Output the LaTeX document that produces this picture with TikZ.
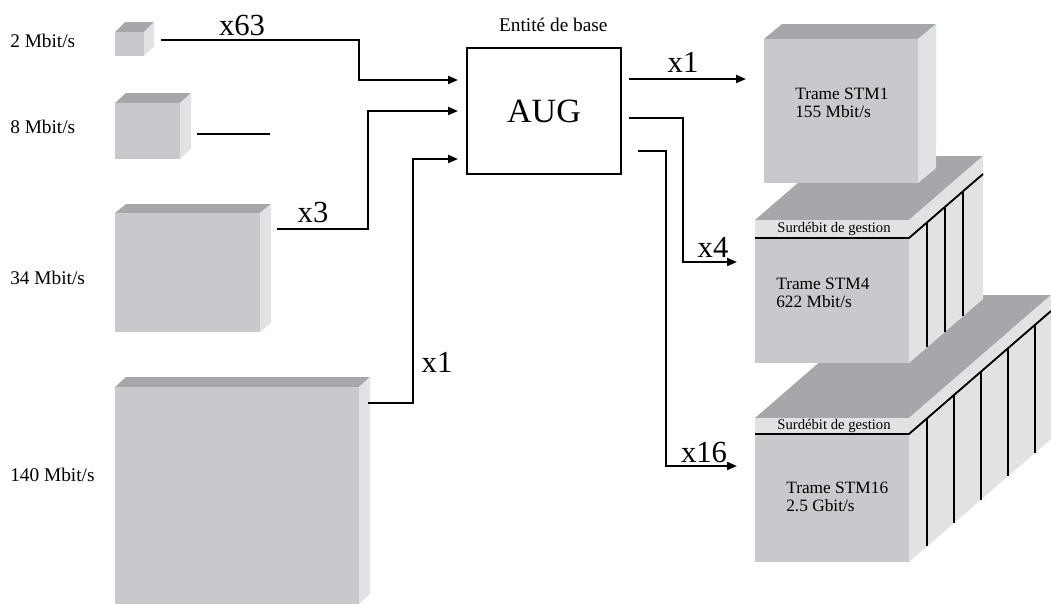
\documentclass[tikz,border=0pt]{standalone}
\usepackage{fontspec}
\setmainfont{Liberation Serif}
\usepackage{xcolor}
\usetikzlibrary{arrows.meta, positioning}

\definecolor{frontgray}{RGB}{200,201,204}
\definecolor{topgray}{RGB}{166,167,170}
\definecolor{sidegray}{RGB}{225,226,228}

\begin{document}
\begin{tikzpicture}[
    x=0.75pt, y=-0.75pt,
    >={Triangle[length=7.5pt, width=6pt]},
    frontface/.style={fill=frontgray},
    topface/.style={fill=topgray},
    sideface/.style={fill=sidegray},
    ratelabel/.style={anchor=base west, inner sep=0pt, font=\fontsize{14.5}{16}\selectfont},
    mult/.style={anchor=base, inner sep=0pt, font=\fontsize{23}{26}\selectfont},
    frametext/.style={anchor=west, align=left, inner sep=0pt, font=\fontsize{13}{13.5}\selectfont},
    overhead/.style={inner sep=0pt, font=\fontsize{11}{12}\selectfont},
    basetitle/.style={inner sep=0pt, font=\fontsize{14.5}{16}\selectfont},
    augbox/.style={draw, line width=1.4pt, minimum width=115.5pt, minimum height=94.5pt, font=\fontsize{25.5}{28}\selectfont},
    link/.style={->, line width=1.5pt},
    plainlink/.style={line width=1.5pt},
    panel/.style={line width=1.4pt}
]

\useasboundingbox (0,0) rectangle (1051,604);

% --- Tributary cubes ---
\fill[topface]   (115,32) -- ++(10,-10) -- ++(29,0) -- ++(-10,10) -- cycle;
\fill[sideface]  (144,32) -- ++(10,-10) -- ++(0,24) -- ++(-10,10) -- cycle;
\fill[frontface] (115,32) rectangle (144,56);

\fill[topface]   (115,103) -- ++(11,-10) -- ++(65,0) -- ++(-11,10) -- cycle;
\fill[sideface]  (180,103) -- ++(11,-10) -- ++(0,56) -- ++(-11,10) -- cycle;
\fill[frontface] (115,103) rectangle (180,159);

\fill[topface]   (115,213) -- ++(11,-9) -- ++(145,0) -- ++(-11,9) -- cycle;
\fill[sideface]  (260,213) -- ++(11,-9) -- ++(0,119) -- ++(-11,9) -- cycle;
\fill[frontface] (115,213) rectangle (260,332);

\fill[topface]   (115,387) -- ++(11,-10) -- ++(244,0) -- ++(-11,10) -- cycle;
\fill[sideface]  (359,387) -- ++(11,-10) -- ++(0,217) -- ++(-11,10) -- cycle;
\fill[frontface] (115,387) rectangle (359,604);

\node[ratelabel] (r2)   at (10,47)  {2 Mbit/s};
\node[ratelabel] (r8)   at (10,133) {8 Mbit/s};
\node[ratelabel] (r34)  at (10,284) {34 Mbit/s};
\node[ratelabel] (r140) at (10,481) {140 Mbit/s};

% --- Base entity ---
\node[augbox] (aug) at (544,111) {AUG};
\node[basetitle, above=11pt of aug, xshift=7pt] (title) {Entité de base};

% --- Inputs to AUG ---
\coordinate (o2)   at (161,40);
\coordinate (o8a)  at (197,134);
\coordinate (o8b)  at (270,134);
\coordinate (o34)  at (277,229);
\coordinate (o140) at (368,403);
\coordinate (i1) at (458,80);
\coordinate (i2) at (458,111);
\coordinate (i3) at (458,159);

\draw[link] (o2) -- ++(198,0) |- (i1);
\draw[plainlink] (o8a) -- (o8b);
\draw[link] (o34) -- ++(91,0) |- (i2);
\draw[link] (o140) -- ++(45,0) |- (i3);

\node[mult] (m63) at (242,35)  {x63};
\node[mult] (m3)  at (313,222) {x3};
\node[mult] (m1)  at (437,372) {x1};

% --- STM16 frame ---
\fill[topface]   (755,418) -- (897,295) -- (1051,295) -- (909,418) -- cycle;
\fill[sideface]  (909,418) -- (1051,295) -- (1051,439) -- (909,562) -- cycle;
\fill[frontface] (755,434) rectangle (909,562);
\fill[sideface]  (755,418) rectangle (909,434);
\draw[panel] (755,434) -- (909,434) -- (1051,311);
\foreach \u in {18,45,72,99,126}
    \draw[panel] (909,434) ++({\u},{-0.866*\u}) -- ++(0,128);

% --- STM4 frame ---
\fill[topface]   (755,220) -- (829,156) -- (983,156) -- (909,220) -- cycle;
\fill[sideface]  (909,220) -- (983,156) -- (983,299) -- (909,363) -- cycle;
\fill[frontface] (755,238) rectangle (909,363);
\fill[sideface]  (755,220) rectangle (909,238);
\draw[panel] (755,238) -- (909,238) -- (983,174);
\foreach \u in {18,36,54}
    \draw[panel] (909,238) ++({\u},{-0.865*\u}) -- ++(0,125);

% --- STM1 frame ---
\fill[topface]   (764,39) -- (782,24) -- (936,24) -- (918,39) -- cycle;
\fill[sideface]  (918,39) -- (936,24) -- (936,168) -- (918,183) -- cycle;
\fill[frontface] (764,39) rectangle (918,183);

\node[frametext] (stm1)  at (795,103) {Trame STM1\\155 Mbit/s};
\node[frametext] (stm4)  at (776,293) {Trame STM4\\622 Mbit/s};
\node[frametext] (stm16) at (786,497) {Trame STM16\\2.5 Gbit/s};
\node[overhead] (oh4)  at (834,229) {Surdébit de gestion};
\node[overhead] (oh16) at (834,426) {Surdébit de gestion};

% --- Outputs from AUG ---
\coordinate (q1)  at (629,79);
\coordinate (q4)  at (629,118);
\coordinate (q16) at (638,151);
\coordinate (t1)  at (746,79);
\coordinate (t4)  at (737,262);
\coordinate (t16) at (737,466);

\draw[link] (q1) -- (t1);
\draw[link] (q4) -- ++(54,0) |- (t4);
\draw[link] (q16) -- ++(28,0) |- (t16);

\node[mult] (n1)  at (683,72)  {x1};
\node[mult] (n4)  at (713,257) {x4};
\node[mult] (n16) at (704,462) {x16};

\end{tikzpicture}
\end{document}
